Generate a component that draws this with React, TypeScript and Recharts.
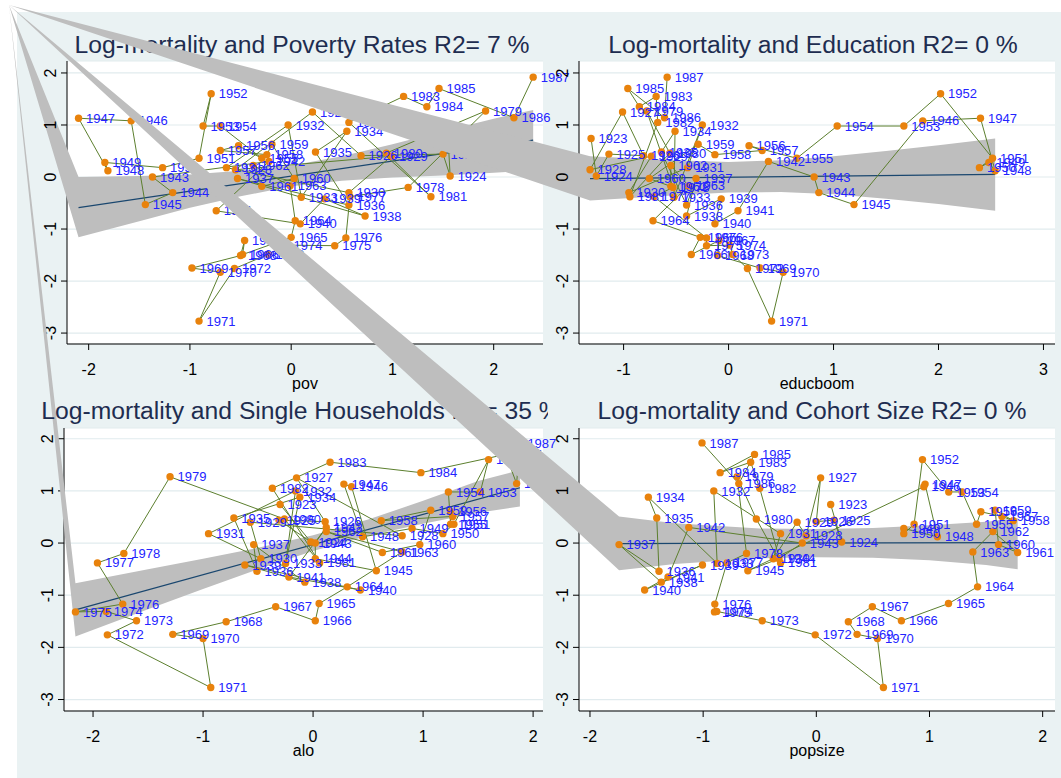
import React from 'react';
import { ComposedChart, Scatter, XAxis, YAxis, CartesianGrid } from 'recharts';

// ---------------- data ----------------
const years = [
  1923, 1924, 1925, 1926, 1927, 1928, 1929, 1930, 1931, 1932, 1933, 1934, 1935,
  1936, 1937, 1938, 1939, 1940, 1941, 1942, 1943, 1944, 1945, 1946, 1947, 1948,
  1949, 1950, 1951, 1952, 1953, 1954, 1955, 1956, 1957, 1958, 1959, 1960, 1961,
  1962, 1963, 1964, 1965, 1966, 1967, 1968, 1969, 1970, 1971, 1972, 1973, 1974,
  1975, 1976, 1977, 1978, 1979, 1980, 1981, 1982, 1983, 1984, 1985, 1986, 1987,
];

const logMortality = [
  0.74, 0.02, 0.44, 0.41, 1.25, 0.14, 0.4, -0.3, 0.18, 1.0, -0.39, 0.88, 0.48,
  -0.54, -0.03, -0.75, -0.42, -0.9, -0.65, 0.3, 0.0, -0.3, -0.53, 1.08, 1.13, 0.12,
  0.28, 0.18, 0.36, 1.6, 0.98, 0.98, 0.36, 0.6, 0.51, 0.43, 0.63, -0.03, -0.18,
  0.22, -0.17, -0.84, -1.16, -1.49, -1.22, -1.51, -1.75, -1.83, -2.77, -1.76, -1.49, -1.31,
  -1.32, -1.17, -0.38, -0.2, 1.27, 0.46, -0.38, 1.05, 1.55, 1.35, 1.7, 1.14, 1.92,
];

const pov = [
  1.55, 1.57, 1.5, 0.69, 0.21, -0.55, 0.99, 0.57, -0.64, -0.03, 0.1, 0.55, 0.24,
  0.57, -0.53, 0.73, 0.33, 0.09, -0.74, -0.22, -1.37, -1.17, -1.44, -1.58, -2.1, -1.81,
  -1.84, -1.27, -0.91, -0.79, -0.87, -0.7, -0.29, -0.52, -0.7, -0.24, -0.19, 0.03, -0.29,
  -0.375, -0.01, 0.04, 0.0, -0.48, -0.46, -0.5, -0.98, -0.7, -0.91, -0.56, -0.23, -0.05,
  0.43, 0.54, 0.58, 1.155, 1.92, 0.94, 1.38, 0.57, 1.11, 1.34, 1.46, 2.2, 2.39,
];

const educboom = [
  -1.31, -1.26, -1.14, -0.81, -1.01, -1.32, -0.735, -0.95, -0.39, -0.25, -0.52, -0.51, -0.64,
  -0.4, -0.31, -0.4, -0.07, -0.13, 0.09, 0.38, 0.815, 0.86, 1.195, 1.85, 2.4, 2.54,
  2.48, 2.39, 2.515, 2.02, 1.67, 1.035, 0.65, 0.195, 0.32, -0.13, -0.29, -0.755, -0.55,
  -0.55, -0.38, -0.72, -0.27, -0.355, -0.09, -0.105, 0.3, 0.52, 0.41, 0.18, 0.04, 0.01,
  -0.21, -0.21, -0.71, -0.53, -0.78, -0.56, -0.94, -0.675, -0.69, -0.85, -0.96, -0.61, -0.585,
];

const alo = [
  -0.3, -0.02, -0.31, 0.11, -0.15, 0.81, -0.57, -0.475, -0.95, -0.16, -0.25, -0.12, -0.72,
  -0.51, -0.54, -0.075, -0.62, 0.43, -0.22, 0.12, 0.02, 0.02, 0.575, 0.35, 0.28, 0.45,
  0.9, 1.18, 1.28, 1.595, 1.52, 1.23, 1.25, 1.25, 1.27, 0.62, 1.07, 0.97, 0.63,
  0.12, 0.81, 0.31, 0.055, 0.02, -0.34, -0.79, -1.275, -1.0, -0.93, -1.87, -1.605, -1.88,
  -2.16, -1.73, -1.96, -1.72, -1.3, -0.26, 0.06, -0.37, 0.155, 0.98, 1.75, 1.85, 1.88,
];

const popsize = [
  0.127, 0.224, 0.156, 0.0, 0.038, -0.09, -0.17, -0.38, -0.316, -0.906, -0.876, -1.484, -1.41,
  -1.39, -1.743, -1.37, -1.006, -1.517, -1.31, -1.127, -0.124, -0.33, -0.605, 0.95, 0.961, 1.07,
  0.773, 0.773, 0.864, 0.938, 1.17, 1.289, 1.416, 1.454, 1.64, 1.74, 1.58, 1.61, 1.779,
  1.56, 1.383, 1.425, 1.168, 0.752, 0.495, 0.283, 0.36, 0.54, 0.593, -0.01, -0.478, -0.88,
  -0.9, -0.897, -0.79, -0.617, -0.7, -0.53, -0.316, -0.5, -0.58, -0.85, -0.546, -0.685, -1.01,
];

// confidence bands (x, low, high) and fitted lines
const povBandX = [-2.1, -1.5, -1.0, -0.5, 0, 0.5, 1.0, 1.5, 2.0, 2.39];
const povBandLow = [-1.16, -0.85, -0.59, -0.37, -0.18, -0.07, -0.01, 0.03, 0.08, 0.13];
const povBandHigh = [0.0, 0.02, 0.05, 0.12, 0.22, 0.4, 0.63, 0.88, 1.12, 1.29];
const povFitX = [-2.1, 2.39];
const povFitY = [-0.59, 0.71];

const educBandX = [-1.32, -0.5, 0, 0.5, 1.0, 1.5, 2.0, 2.54];
const educBandLow = [-0.45, -0.35, -0.3, -0.29, -0.33, -0.42, -0.52, -0.65];
const educBandHigh = [0.4, 0.32, 0.29, 0.32, 0.4, 0.5, 0.61, 0.74];
const educFitX = [-1.32, 2.54];
const educFitY = [-0.03, 0.05];

const aloBandX = [-2.16, -1.5, -1.0, -0.5, 0, 0.5, 1.0, 1.5, 1.88];
const aloBandLow = [-1.79, -1.27, -0.88, -0.5, -0.15, 0.14, 0.37, 0.58, 0.7];
const aloBandHigh = [-0.77, -0.5, -0.3, -0.09, 0.15, 0.45, 0.81, 1.19, 1.4];
const aloFitX = [-2.16, 1.88];
const aloFitY = [-1.28, 1.06];

const popBandX = [-1.743, -1.25, -0.5, 0, 0.5, 1.0, 1.5, 1.779];
const popBandLow = [-0.52, -0.4, -0.29, -0.27, -0.28, -0.33, -0.42, -0.5];
const popBandHigh = [0.51, 0.38, 0.28, 0.27, 0.29, 0.34, 0.41, 0.48];
const popFitX = [-1.743, 1.779];
const popFitY = [-0.01, 0.01];

const yTicks = [-3, -2, -1, 0, 1, 2];
const xTicksStd = [-2, -1, 0, 1, 2];
const xTicksEduc = [-1, 0, 1, 2, 3];

// ---------------- style ----------------
const FONT = '"Liberation Sans", Arial, Helvetica, sans-serif';
const ORANGE = '#E8820C';
const GREEN = '#5C7F2E';
const BLUE = '#2323FF';
const NAVY = '#1A476F';
const BAND = '#BEBEBE';
const BG = '#EAF2F3';
const GRID = '#E1EBEE';
const TITLE = '#1E2D50';
const APEX = { x: 9, y: 5 };

const makePoints = (xs: number[]) =>
  years.map((yr, i) => ({ x: xs[i], y: logMortality[i], year: yr }));
const makeRing = (bx: number[], lo: number[], hi: number[]) => [
  ...bx.map((x, i) => ({ x, y: lo[i] })),
  ...bx.map((x, i) => ({ x, y: hi[i] })).reverse(),
];
const makeFit = (fx: number[], fy: number[]) => fx.map((x, i) => ({ x, y: fy[i] }));

const renderNothing = () => <g />;
const renderDot = (p: any) => <circle cx={p.cx} cy={p.cy} r={3.7} fill={ORANGE} stroke="none" />;
const renderLabel = (p: any) => (
  <text x={p.cx + 7.5} y={p.cy + 4.6} fontSize={13} fill={BLUE} fontFamily={FONT}>
    {p.payload && p.payload.year}
  </text>
);

const YTick = (props: any) => {
  const { x, y, payload } = props;
  return (
    <text
      x={x}
      y={y}
      transform={`rotate(-90 ${x} ${y})`}
      textAnchor="middle"
      fontSize={16}
      fill="#000"
      fontFamily={FONT}
    >
      {payload.value}
    </text>
  );
};

type PanelProps = {
  left: number;
  top: number;
  width: number;
  height: number;
  margin: { top: number; right: number; bottom: number; left: number };
  xDomain: [number, number];
  yDomain: [number, number];
  xTicks: number[];
  xLabel: string;
  xs: number[];
  band: { x: number; y: number }[];
  fit: { x: number; y: number }[];
};

function Panel(props: PanelProps) {
  const { left, top, width, height, margin, xDomain, yDomain, xTicks, xLabel, xs, band, fit } = props;
  const apex = { x: APEX.x - left, y: APEX.y - top };
  const pts = makePoints(xs);
  const ringLine = (lp: any) => {
    const p = lp.points || [];
    if (!p.length) return <g />;
    const d = `M${apex.x},${apex.y}` + p.map((q: any) => `L${q.x},${q.y}`).join('') + 'Z';
    return <path d={d} fill={BAND} stroke="none" />;
  };
  const axisTitle = (lp: any) => {
    const vb = lp.viewBox || { x: 0, y: 0, width: 0 };
    return (
      <text x={vb.x + vb.width / 2} y={vb.y + 45} textAnchor="middle" fontSize={16} fill="#000" fontFamily={FONT}>
        {xLabel}
      </text>
    );
  };
  return (
    <div style={{ position: 'absolute', left, top, width, height }}>
      <ComposedChart width={width} height={height} margin={margin}>
        <CartesianGrid horizontal vertical={false} fill="#FFFFFF" fillOpacity={1} stroke={GRID} strokeWidth={1.2} />
        <Scatter data={band} isAnimationActive={false} shape={renderNothing} line={ringLine} />
        <Scatter
          data={fit}
          isAnimationActive={false}
          shape={renderNothing}
          line={{ stroke: NAVY, strokeWidth: 1.2 }}
        />
        <Scatter
          data={pts}
          isAnimationActive={false}
          shape={renderDot}
          line={{ stroke: GREEN, strokeWidth: 1 }}
        />
        <Scatter data={pts} isAnimationActive={false} shape={renderLabel} />
        <XAxis
          type="number"
          dataKey="x"
          domain={xDomain}
          ticks={xTicks}
          interval={0}
          height={45}
          tickSize={6}
          tickMargin={14}
          axisLine={{ stroke: '#000' }}
          tickLine={{ stroke: '#000' }}
          tick={{ fontSize: 16, fill: '#000', fontFamily: FONT }}
          label={{ value: xLabel, content: axisTitle }}
        />
        <YAxis
          type="number"
          dataKey="y"
          domain={yDomain}
          ticks={yTicks}
          interval={0}
          width={67}
          tickSize={6}
          tickMargin={5}
          axisLine={{ stroke: '#000' }}
          tickLine={{ stroke: '#000' }}
          tick={(p: any) => <YTick {...p} />}
        />
      </ComposedChart>
    </div>
  );
}

function Title({ text, cx, baseline, top, clipWidth }: { text: string; cx: number; baseline: number; top: number; clipWidth: number }) {
  return (
    <svg
      width={clipWidth}
      height={70}
      style={{ position: 'absolute', left: 0, top, overflow: 'hidden' }}
    >
      <text x={cx} y={baseline - top} textAnchor="middle" fontSize={24.7} fill={TITLE} fontFamily={FONT}>
        {text}
      </text>
    </svg>
  );
}

export default function App() {
  const topY: [number, number] = [-3.21, 2.23];
  const botY: [number, number] = [-3.22, 2.206];
  return (
    <div
      style={{
        position: 'absolute',
        left: 0,
        top: 0,
        width: 1061,
        height: 778,
        background: '#FFFFFF',
        overflow: 'hidden',
        fontFamily: FONT,
      }}
    >
      <style>{'.recharts-surface{overflow:visible}'}</style>
      <div style={{ position: 'absolute', left: 17, top: 12, width: 1044, height: 766, background: BG }} />

      <Panel
        left={0}
        top={0}
        width={545}
        height={392}
        margin={{ top: 61, right: 2, bottom: 3, left: 0 }}
        xDomain={[-2.214, 2.487]}
        yDomain={topY}
        xTicks={xTicksStd}
        xLabel="pov"
        xs={pov}
        band={makeRing(povBandX, povBandLow, povBandHigh)}
        fit={makeFit(povFitX, povFitY)}
      />
      <Title text="Log-mortality and Poverty Rates R2= 7 %" cx={302} baseline={53} top={0} clipWidth={560} />

      <Panel
        left={512}
        top={0}
        width={549}
        height={392}
        margin={{ top: 61, right: 6, bottom: 3, left: 0 }}
        xDomain={[-1.425, 3.11]}
        yDomain={topY}
        xTicks={xTicksEduc}
        xLabel="educboom"
        xs={educboom}
        band={makeRing(educBandX, educBandLow, educBandHigh)}
        fit={makeFit(educFitX, educFitY)}
      />
      <Title text="Log-mortality and Education R2= 0 %" cx={813} baseline={53} top={0} clipWidth={1061} />

      <Panel
        left={-3}
        top={367}
        width={547}
        height={392}
        margin={{ top: 61, right: 1, bottom: 3, left: 0 }}
        xDomain={[-2.264, 2.09]}
        yDomain={botY}
        xTicks={xTicksStd}
        xLabel="alo"
        xs={alo}
        band={makeRing(aloBandX, aloBandLow, aloBandHigh)}
        fit={makeFit(aloFitX, aloFitY)}
      />
      <Title text="Log-mortality and Single Households R2= 35 %" cx={301} baseline={419} top={367} clipWidth={548} />

      <Panel
        left={512}
        top={367}
        width={549}
        height={392}
        margin={{ top: 61, right: 6, bottom: 3, left: 0 }}
        xDomain={[-2.097, 2.109]}
        yDomain={botY}
        xTicks={xTicksStd}
        xLabel="popsize"
        xs={popsize}
        band={makeRing(popBandX, popBandLow, popBandHigh)}
        fit={makeFit(popFitX, popFitY)}
      />
      <Title text="Log-mortality and Cohort Size R2= 0 %" cx={812} baseline={419} top={367} clipWidth={1061} />
    </div>
  );
}
